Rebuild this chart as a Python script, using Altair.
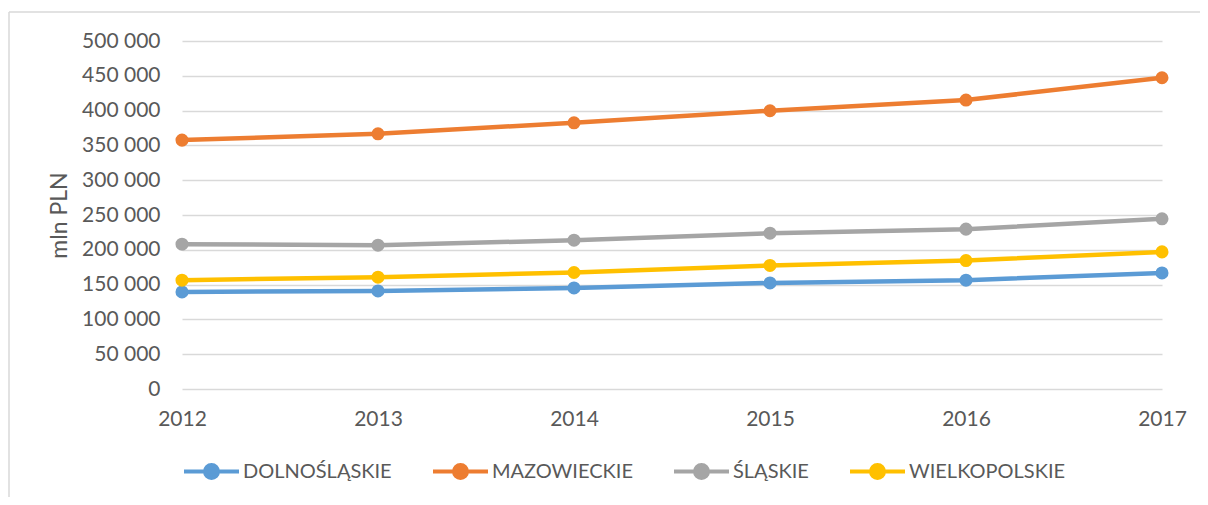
import altair as alt
import pandas as pd

years = [2012, 2013, 2014, 2015, 2016, 2017]
regions = ["DOLNOŚLĄSKIE", "MAZOWIECKIE", "ŚLĄSKIE", "WIELKOPOLSKIE"]
dolnoslaskie = [139500, 140900, 145200, 152400, 156300, 166800]
mazowieckie = [357600, 366700, 382500, 399800, 415200, 447200]
slaskie = [208100, 206600, 213800, 223900, 229700, 244500]
wielkopolskie = [156300, 160600, 167400, 177500, 184600, 197000]
colors = ["#5B9BD5", "#ED7D31", "#A5A5A5", "#FFC000"]
y_ticks = [0, 50000, 100000, 150000, 200000, 250000, 300000, 350000, 400000, 450000, 500000]

series = [dolnoslaskie, mazowieckie, slaskie, wielkopolskie]
rows = []
for name, vals in zip(regions, series):
    for yr, v in zip(years, vals):
        rows.append({"rok": str(yr), "region": name, "wartosc": v})
df = pd.DataFrame(rows)

FONT = "Lato"
TXT = "#595959"

color = alt.Color(
    "region:N",
    scale=alt.Scale(domain=regions, range=colors),
    sort=regions,
    legend=alt.Legend(
        title=None,
        orient="bottom",
        direction="horizontal",
        symbolType="M-1,0L1,0M0.236,0A0.236,0.236,0,1,1,-0.236,0A0.236,0.236,0,1,1,0.236,0Z",
        symbolSize=3025,
        symbolStrokeWidth=4,
        labelFont=FONT,
        labelFontSize=20,
        labelColor=TXT,
        labelOffset=2,
        columnPadding=33,
        offset=13,
    ),
)

x = alt.X(
    "rok:O",
    sort=[str(y) for y in years],
    scale=alt.Scale(type="point", padding=0),
    axis=alt.Axis(
        title=None,
        labelAngle=0,
        ticks=False,
        domain=False,
        grid=False,
        labelFont=FONT,
        labelFontSize=21,
        labelColor=TXT,
        labelPadding=19,
    ),
)

y = alt.Y(
    "wartosc:Q",
    scale=alt.Scale(domain=[0, 500000], nice=False),
    axis=alt.Axis(
        title="mln PLN",
        values=y_ticks,
        labelExpr="replace(format(datum.value, ',d'), /,/g, ' ')",
        ticks=False,
        domain=False,
        gridColor="#D9D9D9",
        gridWidth=1.3,
        labelFont=FONT,
        labelFontSize=21,
        labelColor=TXT,
        labelPadding=22,
        titleFont=FONT,
        titleFontSize=23,
        titleFontWeight="normal",
        titleColor=TXT,
        titleX=-123,
        titleY=174,
        titleAngle=-90,
        titleAlign="center",
        titleBaseline="middle",
    ),
)

one = pd.DataFrame({"a": [0]})
frame_left = alt.Chart(one).mark_rule(stroke="#D9D9D9", strokeWidth=1.5).encode(
    x=alt.value(-173), y=alt.value(-29), y2=alt.value(600)
)
frame_top = alt.Chart(one).mark_rule(stroke="#D9D9D9", strokeWidth=1.5).encode(
    x=alt.value(-173), x2=alt.value(1100), y=alt.value(-29)
)

lines = alt.Chart(df).mark_line(strokeWidth=4.5).encode(x=x, y=y, color=color)
points = alt.Chart(df).mark_circle(size=170, opacity=1).encode(x=x, y=y, color=color)

chart = alt.layer(frame_left, frame_top, lines, points).properties(
    width=980,
    height=348,
    autosize=alt.AutoSizeParams(type="none"),
    padding={"left": 174, "top": 33, "right": 38, "bottom": 108},
).configure_view(stroke=None)

chart.save("out.html", embed_options={"renderer": "svg", "actions": False})
